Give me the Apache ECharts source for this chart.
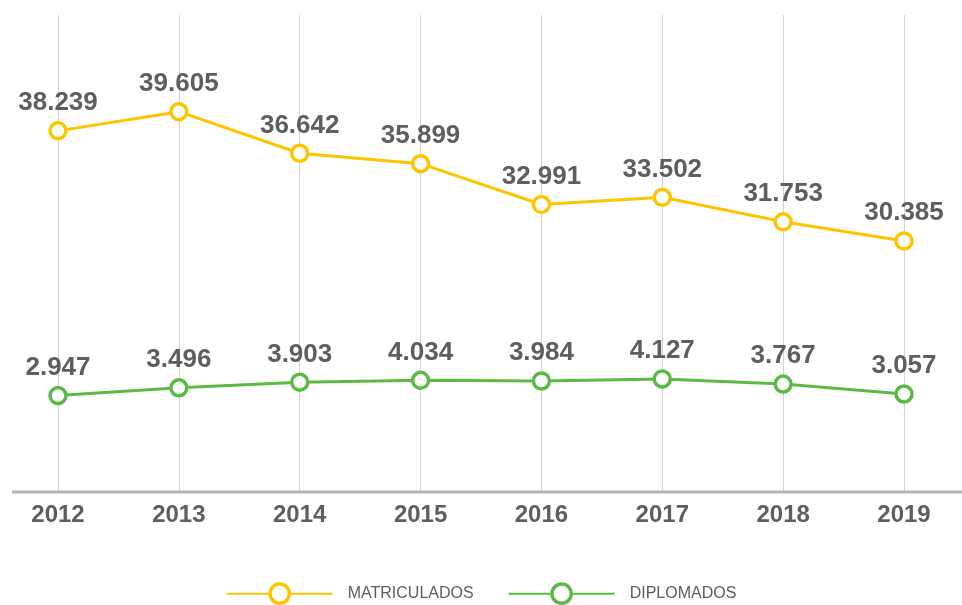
<!DOCTYPE html>
<html>
<head>
<meta charset="utf-8">
<title>Matriculados y diplomados 2012-2019</title>
<script src="https://cdn.jsdelivr.net/npm/echarts@6/dist/echarts.min.js"></script>
<style>
  html, body { margin: 0; padding: 0; background: #fff; }
  #chart { width: 962px; height: 605px; }
</style>
</head>
<body>
<div id="chart"></div>
<script>
// data
var years = ['2012', '2013', '2014', '2015', '2016', '2017', '2018', '2019']
var matriculados = [38239, 39605, 36642, 35899, 32991, 33502, 31753, 30385]
var diplomados = [2947, 3496, 3903, 4034, 3984, 4127, 3767, 3057]

var FONT = '"Liberation Sans", Roboto, sans-serif'
var GRAY = '#5e5e5e'
var YELLOW = '#FCC500'
var GREEN = '#5CB946'

// formato con punto de miles
function fmt(v) {
  return String(v).replace(/\B(?=(\d{3})+(?!\d))/g, '.')
}

var chart = echarts.init(document.getElementById('chart'))

function labelStyle() {
  return {
    show: true,
    position: 'top',
    distance: 5,
    color: GRAY,
    fontFamily: FONT,
    fontWeight: 'bold',
    fontSize: 26,
    formatter: function (p) { return fmt(p.value) }
  }
}

function lineSeries(name, data, axis, color) {
  return {
    name: name,
    type: 'line',
    yAxisIndex: axis,
    data: data,
    symbol: 'circle',
    symbolSize: 16,
    lineStyle: { color: color, width: 3 },
    itemStyle: { color: '#fff', borderColor: color, borderWidth: 3.5 },
    label: labelStyle(),
    z: 3
  }
}

chart.setOption({
  animation: false,
  grid: {
    left: 58,
    right: 58,
    top: 15,
    bottom: 113
  },
  legend: {
    bottom: 0,
    padding: 0,
    left: 'center',
    itemWidth: 106,
    itemHeight: 24,
    itemGap: 34,
    itemStyle: { borderWidth: 3.5 },
    lineStyle: { width: 2 },
    textStyle: {
      color: GRAY,
      fontFamily: FONT,
      fontSize: 16,
      padding: [0, 0, 0, 10]
    },
    data: [
      { name: 'MATRICULADOS' },
      { name: 'DIPLOMADOS' }
    ]
  },
  xAxis: {
    type: 'category',
    data: years,
    boundaryGap: false,
    axisLine: { show: false },
    axisTick: { show: false },
    splitLine: {
      show: true,
      lineStyle: { color: '#d2d2d2', width: 1 }
    },
    axisLabel: {
      margin: 11,
      color: GRAY,
      fontFamily: FONT,
      fontWeight: 'bold',
      fontSize: 24
    }
  },
  yAxis: [
    { type: 'value', min: 12490, max: 46500, show: false, splitLine: { show: false } },
    { type: 'value', min: -3930, max: 30080, show: false, splitLine: { show: false } }
  ],
  graphic: [{
    type: 'line',
    shape: { x1: 12, y1: 492, x2: 962, y2: 492 },
    style: { stroke: '#b4b4b4', lineWidth: 3 },
    z: 10
  }],
  series: [
    lineSeries('MATRICULADOS', matriculados, 0, YELLOW),
    lineSeries('DIPLOMADOS', diplomados, 1, GREEN)
  ]
})
</script>
</body>
</html>
